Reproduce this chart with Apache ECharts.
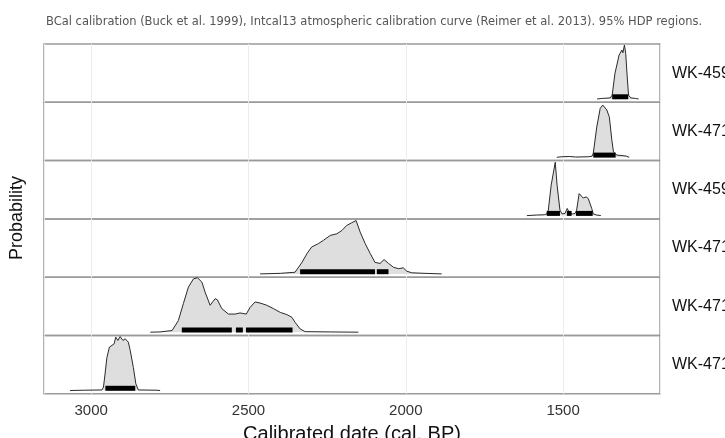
<!DOCTYPE html>
<html>
<head>
<meta charset="utf-8">
<script src="https://cdn.jsdelivr.net/npm/echarts@6/dist/echarts.min.js"></script>
<style>
  html, body { margin: 0; padding: 0; background: #fff; }
  #chart { width: 725px; height: 438px; }
</style>
</head>
<body>
<div id="chart"></div>
<script>
// sample names, top to bottom
var sampleLabels = ["WK-45996", "WK-47119", "WK-45997", "WK-47118", "WK-47117", "WK-47116"];
var xTicks = [3000, 2500, 2000, 1500];

// posterior density (cal. BP, relative probability)
var wk1Density = [[1392, 0], [1377, 0.01], [1350, 0.02], [1344, 0.07], [1335, 0.47], [1322, 0.8], [1313, 0.89], [1310, 0.84], [1305, 0.98], [1301, 0.83], [1297, 0.47], [1292, 0.07], [1285, 0.02], [1270, 0.01], [1260, 0]];
var wk2Density = [[1520, 0], [1505, 0.01], [1480, 0.015], [1460, 0.005], [1420, 0.01], [1408, 0.02], [1404, 0.075], [1393, 0.55], [1382, 0.89], [1374, 0.95], [1361, 0.86], [1353, 0.73], [1345, 0.31], [1340, 0.1], [1329, 0.04], [1310, 0.03], [1298, 0.02], [1290, 0]];
var wk3Density = [[1615, 0], [1585, 0.01], [1560, 0.015], [1552, 0.03], [1547, 0.1], [1538, 0.55], [1525, 0.97], [1519, 0.55], [1510, 0.1], [1503, 0.03], [1494, 0.04], [1487, 0.13], [1480, 0.05], [1470, 0.03], [1462, 0.04], [1457, 0.1], [1449, 0.4], [1444, 0.42], [1436, 0.32], [1427, 0.34], [1420, 0.31], [1409, 0.13], [1404, 0.03], [1393, 0.01], [1380, 0]];
var wk4Density = [[2463, 0], [2399, 0.01], [2352, 0.03], [2330, 0.21], [2314, 0.37], [2299, 0.49], [2278, 0.55], [2262, 0.61], [2240, 0.7], [2219, 0.73], [2203, 0.79], [2188, 0.88], [2172, 0.93], [2158, 0.97], [2145, 0.76], [2129, 0.55], [2113, 0.37], [2098, 0.21], [2082, 0.19], [2069, 0.26], [2055, 0.19], [2039, 0.12], [2023, 0.095], [2008, 0.11], [1997, 0.05], [1981, 0.02], [1939, 0.01], [1886, 0]];
var wk5Density = [[2812, 0], [2781, 0.005], [2743, 0.03], [2723, 0.21], [2707, 0.52], [2691, 0.82], [2675, 0.97], [2662, 0.99], [2648, 0.91], [2638, 0.73], [2622, 0.49], [2606, 0.61], [2599, 0.59], [2585, 0.43], [2564, 0.33], [2542, 0.33], [2527, 0.35], [2507, 0.33], [2495, 0.45], [2479, 0.55], [2463, 0.53], [2442, 0.49], [2421, 0.43], [2399, 0.36], [2378, 0.32], [2362, 0.27], [2352, 0.18], [2336, 0.06], [2320, 0.01], [2240, 0.005], [2151, 0]];
var wk6Density = [[3067, 0], [3024, 0.005], [2966, 0.01], [2961, 0.06], [2956, 0.3], [2950, 0.6], [2942, 0.79], [2934, 0.82], [2927, 0.85], [2922, 0.97], [2915, 0.91], [2908, 0.98], [2899, 0.91], [2892, 0.94], [2882, 0.88], [2876, 0.73], [2866, 0.42], [2858, 0.12], [2850, 0.01], [2791, 0.005], [2781, 0]];

// 95% HDP regions [from, to]
var wk1Hpd = [[1344, 1293]];
var wk2Hpd = [[1404, 1333]];
var wk3Hpd = [[1552, 1510], [1488, 1473], [1459, 1406]];
var wk4Hpd = [[2336, 2098], [2092, 2055]];
var wk5Hpd = [[2712, 2553], [2540, 2518], [2508, 2360]];
var wk6Hpd = [[2955, 2860]];

var densities = [wk1Density, wk2Density, wk3Density, wk4Density, wk5Density, wk6Density];
var hpds = [wk1Hpd, wk2Hpd, wk3Hpd, wk4Hpd, wk5Hpd, wk6Hpd];

var plotTop = 44;
var rowH = 58.3;
var hpdLevel = 0.04;

var grids = [], xAxes = [], yAxes = [], series = [];

sampleLabels.forEach(function (label, i) {
    var last = i === sampleLabels.length - 1;
    grids.push({
        left: 44,
        right: 65,
        top: plotTop + i * rowH,
        height: rowH,
        outerBoundsMode: "none",
        show: true,
        borderColor: "#9a9a9a",
        borderWidth: 1.5
    });
    xAxes.push({
        type: "value",
        gridIndex: i,
        inverse: true,
        min: 1192,
        max: 3150,
        splitNumber: 4,
        axisLine: { show: false },
        axisTick: { show: false },
        axisLabel: {
            show: last,
            color: "#333",
            fontSize: 15,
            fontFamily: "Liberation Sans",
            margin: 10,
            showMinLabel: false,
            showMaxLabel: false,
            formatter: function (v) {
                return xTicks.indexOf(v) >= 0 ? String(v) : "";
            }
        },
        splitLine: { show: true, lineStyle: { color: "#ececec", width: 1 } },
        name: last ? "Calibrated date (cal. BP)" : "",
        nameLocation: "middle",
        nameGap: 31,
        nameTextStyle: { color: "#111", fontSize: 20, fontFamily: "Liberation Sans" }
    });
    yAxes.push({
        type: "value",
        gridIndex: i,
        position: "right",
        min: -0.06,
        max: 1,
        axisLine: { show: false },
        axisTick: { show: false },
        axisLabel: { show: false },
        splitLine: { show: false },
        name: label,
        nameLocation: "middle",
        nameRotate: 0,
        nameGap: 12,
        nameTextStyle: { color: "#111", fontSize: 16, fontFamily: "Liberation Sans", align: "left" }
    });
    series.push({
        type: "line",
        xAxisIndex: i,
        yAxisIndex: i,
        data: densities[i],
        symbol: "none",
        silent: true,
        lineStyle: { color: "#2a2a2a", width: 1 },
        areaStyle: { color: "#dedede", opacity: 1 }
    });
    series.push({
        type: "custom",
        xAxisIndex: i,
        yAxisIndex: i,
        data: hpds[i],
        encode: { x: [0, 1] },
        silent: true,
        z: 5,
        renderItem: function (params, api) {
            var p0 = api.coord([api.value(0), hpdLevel]);
            var p1 = api.coord([api.value(1), hpdLevel]);
            return {
                type: "rect",
                shape: {
                    x: Math.min(p0[0], p1[0]),
                    y: p0[1] - 2.5,
                    width: Math.abs(p1[0] - p0[0]),
                    height: 5
                },
                style: { fill: "#000" }
            };
        }
    });
});

var chart = echarts.init(document.getElementById("chart"));
chart.setOption({
    animation: false,
    backgroundColor: "#fff",
    title: {
        text: "BCal calibration (Buck et al. 1999), Intcal13 atmospheric calibration curve (Reimer et al. 2013). 95% HDP regions.",
        left: 41,
        top: 11,
        textStyle: { color: "#555", fontSize: 11.5, fontWeight: "normal", fontFamily: "DejaVu Sans" }
    },
    graphic: [{
        type: "text",
        left: 8,
        top: 176,
        rotation: Math.PI / 2,
        style: { text: "Probability", fill: "#111", font: "18px 'Liberation Sans'" }
    }],
    grid: grids,
    xAxis: xAxes,
    yAxis: yAxes,
    series: series
});
</script>
</body>
</html>
